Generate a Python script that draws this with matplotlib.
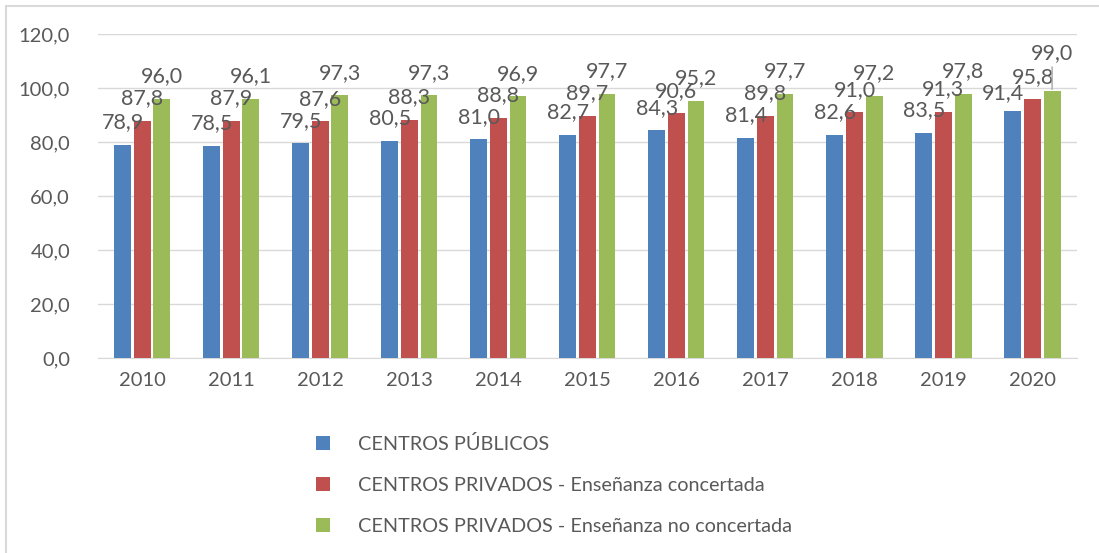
import numpy as np
import matplotlib.pyplot as plt
from matplotlib.patches import Rectangle

plt.rcParams['font.family'] = ['Lato', 'DejaVu Sans']

years = ['2010', '2011', '2012', '2013', '2014', '2015', '2016', '2017', '2018', '2019', '2020']
publicos = [78.9, 78.5, 79.5, 80.5, 81.0, 82.7, 84.3, 81.4, 82.6, 83.5, 91.4]
concertada = [87.8, 87.9, 87.6, 88.3, 88.8, 89.7, 90.6, 89.8, 91.0, 91.3, 95.8]
no_concertada = [96.0, 96.1, 97.3, 97.3, 96.9, 97.7, 95.2, 97.7, 97.2, 97.8, 99.0]
series_names = ['CENTROS PÚBLICOS',
                'CENTROS PRIVADOS - Enseñanza concertada',
                'CENTROS PRIVADOS - Enseñanza no concertada']
colors = ['#4F81BD', '#C0504D', '#9BBB59']
gray = '#595959'

def fmt(v):
    return f'{v:.1f}'.replace('.', ',')

fig = plt.figure(figsize=(10.99, 5.53), dpi=100)
ax = fig.add_axes([0.089, 0.3526, 0.891, 0.5859])

x = np.arange(len(years))
w = 0.19
step = 0.22
all_series = [publicos, concertada, no_concertada]
containers = []
for i, (vals, c, name) in enumerate(zip(all_series, colors, series_names)):
    bars = ax.bar(x + (i - 1) * step, vals, width=w, color=c, label=name, zorder=3)
    containers.append(bars)

# etiquetas de datos (el último grupo va desplazado como en el original)
last = len(years) - 1
special = {0: (-7, 9), 1: (0, 12), 2: (0, 23)}
for i, bars in enumerate(containers):
    for j, b in enumerate(bars):
        v = b.get_height()
        dx, dy = (0, 12)
        if j == last:
            dx, dy = special[i]
        kw = {}
        if j == last and i == 2:
            kw['arrowprops'] = dict(arrowstyle='-', color='#A6A6A6', lw=1,
                                    shrinkA=1, shrinkB=1, relpos=(0.5, 0.0))
        ax.annotate(fmt(v), (b.get_x() + b.get_width() / 2, v),
                    xytext=(dx, dy), textcoords='offset points',
                    ha='center', va='baseline', fontsize=15.5, color=gray, zorder=4, **kw)

ax.set_xlim(-0.5, len(years) - 0.5)
ax.set_ylim(0, 120)
ax.set_yticks(np.arange(0, 121, 20))
ax.set_yticklabels([fmt(t) for t in np.arange(0, 121, 20)])
ax.set_xticks(x)
ax.set_xticklabels(years)
ax.tick_params(axis='both', length=0, labelsize=14.5, colors=gray)
ax.tick_params(axis='y', pad=20)
ax.tick_params(axis='x', pad=10)
ax.grid(axis='y', color='#D9D9D9', lw=1, zorder=0)
for s in ['top', 'right', 'left']:
    ax.spines[s].set_visible(False)
ax.spines['bottom'].set_color('#D9D9D9')

leg = fig.legend(loc='upper left', bbox_to_anchor=(0.2715, 0.245), frameon=False,
                 handlelength=0.7, handleheight=0.7, handletextpad=1.4,
                 labelspacing=1.2, fontsize=14.3)
for t in leg.get_texts():
    t.set_color(gray)

# marco exterior del gráfico
fig.patches.append(Rectangle((6 / 1099, -0.1), 1.2, 0.1 + (553 - 6) / 553,
                             transform=fig.transFigure, fill=False,
                             edgecolor='#D9D9D9', lw=1.5))

fig.savefig('out.png', dpi=100)
